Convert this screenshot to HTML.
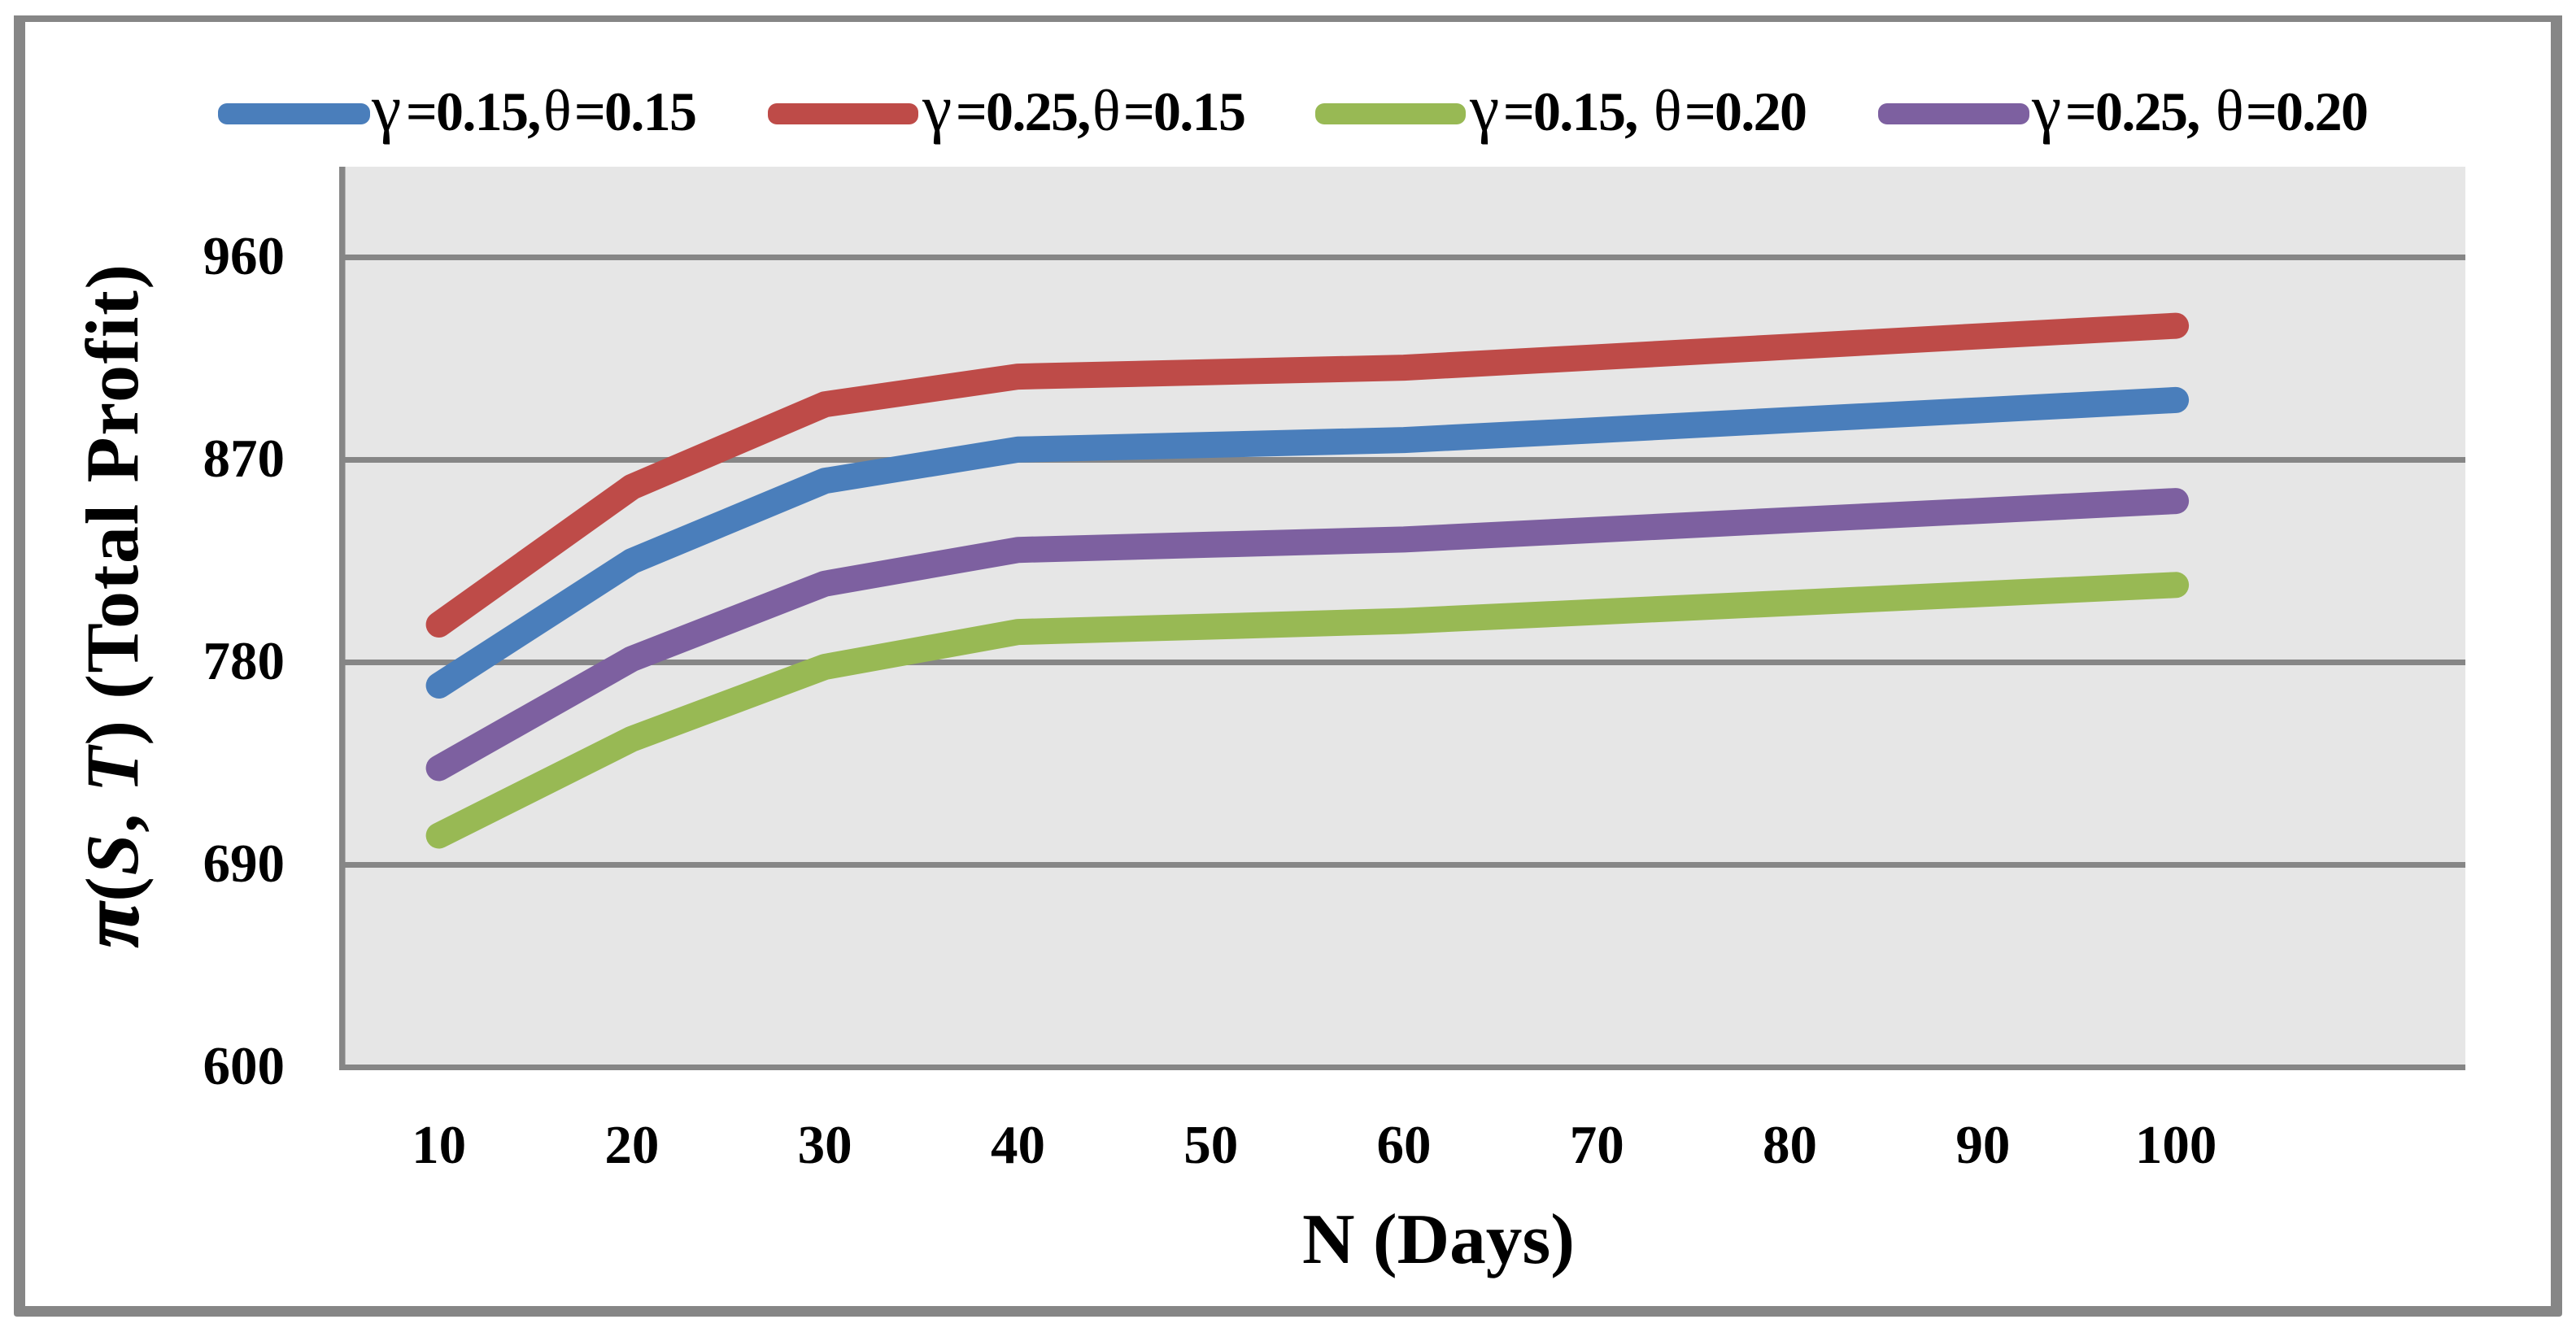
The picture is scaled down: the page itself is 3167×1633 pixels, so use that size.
<!DOCTYPE html>
<html lang="en">
<head>
<meta charset="utf-8">
<title>Total Profit vs N (Days)</title>
<style>
html,body{margin:0;padding:0;background:#fff;}
svg{display:block;}
text{font-family:"Liberation Serif",serif;font-weight:bold;fill:#000;}
.sym{font-weight:normal;}
.gam{font-size:82px;}
.the{font-size:72px;}
.leg{font-size:68px;letter-spacing:-1.7px;}
</style>
</head>
<body>
<svg id="chart" xmlns="http://www.w3.org/2000/svg" width="3167" height="1633" viewBox="0 0 3167 1633">
  <rect x="0" y="0" width="3167" height="1633" fill="#fff"/>
  <path fill="#868686" fill-rule="evenodd" d="M17 19H3150V1615Q3150 1619 3146 1619H21Q17 1619 17 1615ZM31 27V1606H3136V27Z"/>
  <rect x="421" y="205" width="2610" height="1107" fill="#e6e6e6"/>
  <g id="grid"></g>
  <g id="axes">
    <rect x="417" y="205" width="7.5" height="1111" fill="#868686"/>
    <rect x="417" y="1309" width="2614" height="7" fill="#868686"/>
  </g>
  <g id="series"></g>
  <g id="yticks"></g>
  <g id="xticks"></g>
  <g id="legend">
    <g>
      <rect x="268" y="127" width="187" height="26" rx="11" fill="#4a7ebb"/>
      <text class="leg" y="160"><tspan class="sym gam" x="457">γ</tspan><tspan x="499">=0.15,</tspan><tspan class="sym the" x="668">θ</tspan><tspan x="706">=0.15</tspan></text>
    </g>
    <g>
      <rect x="944" y="127" width="185" height="26" rx="11" fill="#be4b48"/>
      <text class="leg" y="160"><tspan class="sym gam" x="1134">γ</tspan><tspan x="1175">=0.25,</tspan><tspan class="sym the" x="1343">θ</tspan><tspan x="1381">=0.15</tspan></text>
    </g>
    <g>
      <rect x="1617" y="127" width="185" height="26" rx="11" fill="#98b954"/>
      <text class="leg" y="160"><tspan class="sym gam" x="1807">γ</tspan><tspan x="1848">=0.15,</tspan><tspan class="sym the" x="2033">θ</tspan><tspan x="2071">=0.20</tspan></text>
    </g>
    <g>
      <rect x="2309" y="127" width="186" height="26" rx="11" fill="#7d60a0"/>
      <text class="leg" y="160"><tspan class="sym gam" x="2498">γ</tspan><tspan x="2539">=0.25,</tspan><tspan class="sym the" x="2724">θ</tspan><tspan x="2761">=0.20</tspan></text>
    </g>
  </g>
  <text transform="translate(169 1165) rotate(-90)" x="0" y="0" font-size="92" textLength="840" lengthAdjust="spacing"><tspan font-style="italic" font-size="100" stroke="#000" stroke-width="2">π</tspan>(<tspan font-style="italic">S</tspan>, <tspan font-style="italic">T</tspan>) (Total Profit)</text>
  <text x="1601" y="1553" font-size="88" textLength="335" lengthAdjust="spacingAndGlyphs">N (Days)</text>
</svg>
<script>
var categories = [10, 20, 30, 40, 50, 60, 70, 80, 90, 100];
var yTickLabels = [600, 690, 780, 870, 960];
var seriesBlue = [769.7, 825, 860.7, 874.6, 876.7, 878.8, 883.2, 887.7, 892.1, 896.6];
var seriesRed = [796.8, 858, 894.7, 907, 909, 911, 915.6, 920.3, 925, 929.6];
var seriesGreen = [703, 746, 778, 793.5, 795.9, 798.4, 802.4, 806.4, 810.4, 814.4];
var seriesPurple = [733, 781.6, 815, 830, 832.3, 834.6, 838.9, 843.2, 847.4, 851.7];

var NS = 'http://www.w3.org/2000/svg';
var plotLeft = 421, plotRight = 3031, slotCount = 11;
var plotBottom = 1312.5, pxPerUnit = 2.7667, yMin = 600;

function xPos(i) {
  return plotLeft + (plotRight - plotLeft) / slotCount * (i + 0.5);
}
function yPos(v) {
  return plotBottom - (v - yMin) * pxPerUnit;
}

var grid = document.getElementById('grid');
yTickLabels.forEach(function (t) {
  if (t === yMin) return;
  var r = document.createElementNS(NS, 'rect');
  
  
  r.setAttribute('x', plotLeft);
  r.setAttribute('y', yPos(t) - 3.5);
  r.setAttribute('width', plotRight - plotLeft);
  r.setAttribute('height', 7);
  r.setAttribute('fill', '#868686');
  grid.appendChild(r);
});

var yticks = document.getElementById('yticks');
yTickLabels.forEach(function (t) {
  var el = document.createElementNS(NS, 'text');
  
  
  el.setAttribute('x', 350);
  el.setAttribute('y', yPos(t) + 20.5);
  el.setAttribute('text-anchor', 'end');
  el.setAttribute('font-size', 67);
  el.textContent = t;
  yticks.appendChild(el);
});

var xticks = document.getElementById('xticks');
categories.forEach(function (c, i) {
  var el = document.createElementNS(NS, 'text');
  
  
  el.setAttribute('x', xPos(i));
  el.setAttribute('y', 1430);
  el.setAttribute('text-anchor', 'middle');
  el.setAttribute('font-size', 67);
  el.textContent = c;
  xticks.appendChild(el);
});

function drawSeries(name, values, color) {
  var pts = values.map(function (v, i) {
    return xPos(i).toFixed(1) + ',' + yPos(v).toFixed(1);
  }).join(' ');
  var line = document.createElementNS(NS, 'polyline');
  
  
  line.setAttribute('points', pts);
  line.setAttribute('fill', 'none');
  line.setAttribute('stroke', color);
  line.setAttribute('stroke-width', 32);
  line.setAttribute('stroke-linecap', 'round');
  line.setAttribute('stroke-linejoin', 'round');
  document.getElementById('series').appendChild(line);
}
drawSeries('series-gamma-015-theta-015', seriesBlue, '#4a7ebb');
drawSeries('series-gamma-025-theta-015', seriesRed, '#be4b48');
drawSeries('series-gamma-015-theta-020', seriesGreen, '#98b954');
drawSeries('series-gamma-025-theta-020', seriesPurple, '#7d60a0');
</script>
</body>
</html>
